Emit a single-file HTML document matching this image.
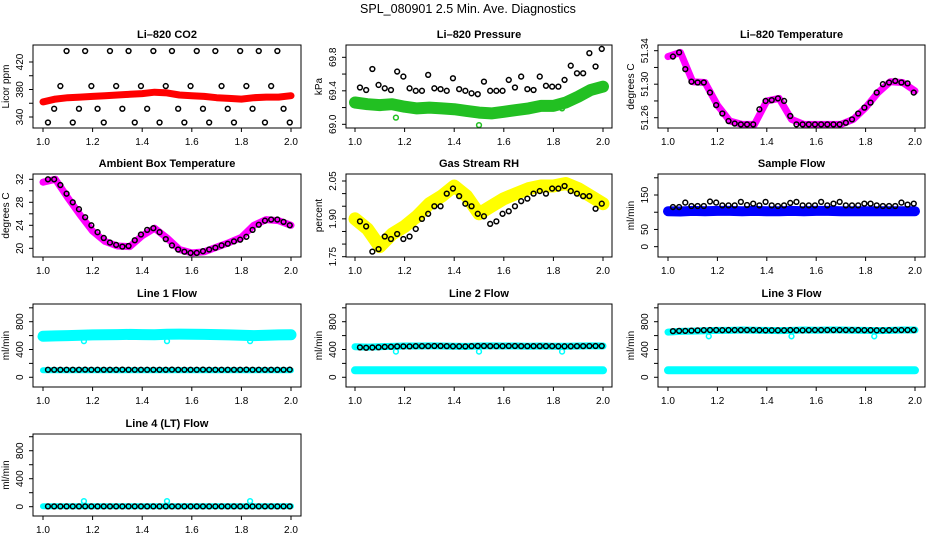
<!DOCTYPE html>
<html><head><meta charset="utf-8"><title>SPL_080901 Diagnostics</title>
<style>
html,body{margin:0;padding:0;background:#fff;}
svg{display:block;font-family:"Liberation Sans",Arial,sans-serif;}
</style></head>
<body>
<svg id="chart" width="936" height="540" viewBox="0 0 936 540" xmlns="http://www.w3.org/2000/svg">
<rect width="936" height="540" fill="#fff"/>
<text x="468" y="13" font-size="12.5" text-anchor="middle">SPL_080901  2.5 Min. Ave. Diagnostics</text>
</svg>
<script>
// ---- data ----
const tx = [1.0,1.05,1.1,1.15,1.2,1.25,1.3,1.35,1.4,1.45,1.5,1.55,1.6,1.65,1.7,1.75,1.8,1.85,1.9,1.95,2.0];
const bx = [1.02,1.045,1.07,1.095,1.12,1.145,1.17,1.195,1.22,1.245,1.27,1.295,1.32,1.345,1.37,1.395,1.42,1.445,1.47,1.495,1.52,1.545,1.57,1.595,1.62,1.645,1.67,1.695,1.72,1.745,1.77,1.795,1.82,1.845,1.87,1.895,1.92,1.945,1.97,1.995];
const xTicks = [1.0,1.2,1.4,1.6,1.8,2.0];
const xTickLabels = ["1.0","1.2","1.4","1.6","1.8","2.0"];
const outX = [1.165,1.5,1.835];

const co2Trace = [362,366,368,369,370,371,372,373,374,376,375,372,371,370,368,367,366,368,369,369,371];
const co2Pts = [332,352,385,436,332,352,436,385,352,332,436,385,352,436,332,385,352,436,332,385,436,352,332,385,436,352,332,436,385,352,332,436,385,352,436,332,385,436,352,332];
const presTrace = [69.26,69.24,69.23,69.24,69.21,69.19,69.2,69.19,69.18,69.16,69.14,69.13,69.15,69.17,69.19,69.22,69.22,69.26,69.33,69.41,69.45];
const presPts = [69.44,69.41,69.66,69.47,69.43,69.41,69.63,69.57,69.43,69.40,69.40,69.59,69.43,69.42,69.40,69.55,69.42,69.40,69.37,69.36,69.51,69.40,69.40,69.40,69.53,69.44,69.57,69.42,69.41,69.57,69.46,69.45,69.45,69.53,69.70,69.61,69.61,69.85,69.69,69.90];
const tempTrace = [51.333,51.338,51.303,51.302,51.275,51.256,51.252,51.252,51.28,51.283,51.258,51.252,51.252,51.252,51.252,51.258,51.272,51.29,51.303,51.302,51.292];
const tempPts = [51.333,51.338,51.318,51.303,51.302,51.302,51.29,51.275,51.265,51.256,51.253,51.252,51.252,51.252,51.27,51.28,51.281,51.283,51.28,51.262,51.252,51.252,51.252,51.252,51.252,51.252,51.252,51.252,51.254,51.258,51.265,51.272,51.278,51.29,51.3,51.302,51.304,51.302,51.301,51.29];
const ambTrace = [31.5,32,28.8,25.8,23,21.2,20.4,20.3,22.2,23.5,21.8,19.8,19.2,19.4,20.2,21,21.9,24,25,24.8,24];
const ambPts = [32,32,31,29.5,28,26.8,25.4,24,22.8,21.8,21,20.6,20.3,20.4,21.4,22.4,23.2,23.5,22.8,21.6,20.5,19.8,19.4,19.2,19.2,19.5,19.8,20.1,20.5,20.8,21.2,21.5,22,23.2,24.1,24.8,25,25,24.6,24];
const rhTrace = [1.90,1.86,1.79,1.84,1.87,1.91,1.96,1.99,2.03,1.99,1.92,1.95,1.98,2.0,2.02,2.03,2.03,2.04,2.02,1.99,1.96];
const rhPts = [1.89,1.87,1.77,1.78,1.83,1.82,1.84,1.82,1.83,1.86,1.90,1.92,1.95,1.95,2.00,2.02,1.99,1.96,1.95,1.92,1.91,1.88,1.89,1.92,1.93,1.95,1.97,1.98,2.00,2.01,2.00,2.02,2.02,2.03,2.01,2.00,1.99,1.99,1.94,1.96];
const sfTrace = [103,102,104,103,104,104,103,104,103,103,104,103,104,104,103,103,103,103,103,103,103];
const sfPts = [115,115,128,118,118,118,131,128,120,120,120,130,121,125,120,130,120,118,120,127,130,120,120,120,130,120,125,130,120,120,120,125,125,120,118,118,118,128,122,125];
const l1Upper = [590,595,600,605,610,612,615,618,615,612,620,622,620,618,615,610,605,600,605,610,612];
const l1Lower = [100,100,100,100,100,100,100,100,100,100,100,100,100,100,100,100,100,100,100,100,100];
const l1Pts = [108,108,108,108,108,108,110,108,108,108,108,108,110,108,108,108,108,108,108,108,110,108,108,108,108,110,108,108,108,108,108,108,110,108,108,108,108,108,108,110];
const l1Out = [520,520,520];
const l2Upper = [440,435,440,445,450,450,452,450,448,445,450,452,450,450,448,450,448,448,450,452,450];
const l2Lower = [100,100,100,100,100,100,100,100,100,100,100,100,100,100,100,100,100,100,100,100,100];
const l2Pts = [430,425,428,432,438,440,445,445,445,448,448,448,450,450,448,446,446,445,448,450,450,448,448,448,450,450,448,448,448,448,448,448,446,446,446,448,448,450,450,450];
const l2Out = [370,370,370];
const l3Upper = [650,660,665,670,675,675,680,678,675,672,675,680,678,680,680,678,675,672,675,680,680];
const l3Lower = [100,100,100,100,100,100,100,100,100,100,100,100,100,100,100,100,100,100,100,100,100];
const l3Pts = [665,668,668,672,675,678,680,680,678,680,680,680,680,680,678,676,676,676,676,680,678,676,678,680,680,680,680,680,680,680,680,678,678,676,676,678,680,680,680,680];
const l3Out = [590,590,590];
const l4Line = [5,5,5,5,5,5,5,5,5,5,5,5,5,5,5,5,5,5,5,5,5];
const l4Pts = [5,5,5,5,5,5,5,5,5,5,5,5,5,5,5,5,5,5,5,5,5,5,5,5,5,5,5,5,5,5,5,5,5,5,5,5,5,5,5,5];
const l4Out = [80,80,80];

const co2Ticks=[340,360,380,400,420], co2Labels=["340","","380","","420"];
const presTicks=[69.0,69.2,69.4,69.6,69.8], presLabels=["69.0","","69.4","","69.8"];
const tempTicks=[51.26,51.28,51.30,51.32,51.34], tempLabels=["51.26","","51.30","","51.34"];
const ambTicks=[20,22,24,26,28,30,32], ambLabels=["20","","24","","28","","32"];
const rhTicks=[1.75,1.80,1.85,1.90,1.95,2.00,2.05], rhLabels=["1.75","","","1.90","","","2.05"];
const sfTicks=[0,50,100,150,200], sfLabels=["0","50","","150",""];
const flowTicks=[0,200,400,600,800,1000], flowLabels=["0","","400","","800",""];

// ---- layout ----
const cols=[{l:33,r:301,x0:43,x1:291},{l:346,r:612,x0:355,x1:603},{l:658,r:925,x0:668,x1:915}];
const rows=[{t:45,b:128},{t:174,b:257},{t:304,b:387},{t:434,b:516}];
const NS="http://www.w3.org/2000/svg";
const svg=document.getElementById('chart');
function mk(tag,attrs,parent){const e=document.createElementNS(NS,tag);for(const k in attrs)e.setAttribute(k,attrs[k]);(parent||svg).appendChild(e);return e;}

function panel(name,title,ytitle,ci,ri,ymin,ymax,ticks,labels,draw){
  const c=cols[ci],r=rows[ri];
  const g=mk('g',{});
  
  
  const xs=v=>c.x0+(v-1)*(c.x1-c.x0);
  const ys=v=>r.b-(v-ymin)/(ymax-ymin)*(r.b-r.t);
  const cp='clip-'+name;
  const cl=mk('clipPath',{id:cp},g);mk('rect',{x:c.l,y:r.t,width:c.r-c.l,height:r.b-r.t},cl);
  const plot=mk('g',{'clip-path':'url(#'+cp+')'},g);
  
  
  draw(plot,xs,ys);
  const box=mk('rect',{x:c.l,y:r.t,width:c.r-c.l,height:r.b-r.t,fill:'none',stroke:'#000','stroke-width':1},g);
  
  
  const t=mk('text',{x:(c.l+c.r)/2,y:r.t-7,'font-size':11,'font-weight':'bold','text-anchor':'middle'},g);
  t.textContent=title;
  
  
  const xa=mk('g',{},g);
  
  
  xTicks.forEach((v,i)=>{
    const x=xs(v);
    mk('line',{x1:x,x2:x,y1:r.b,y2:r.b+4,stroke:'#000'},xa);
    const tl=mk('text',{x:x,y:r.b+17,'font-size':10,'text-anchor':'middle'},xa);
    tl.textContent=xTickLabels[i];
    
    
  });
  const ya=mk('g',{},g);
  
  
  ticks.forEach((v,i)=>{
    const y=ys(v);
    mk('line',{x1:c.l-4,x2:c.l,y1:y,y2:y,stroke:'#000'},ya);
    if(labels[i]){
      const tl=mk('text',{x:0,y:0,'font-size':10,'text-anchor':'middle',transform:`translate(${c.l-10},${y}) rotate(-90)`},ya);
      tl.textContent=labels[i];
      
      
    }
  });
  const yt=mk('text',{x:0,y:0,'font-size':10,'text-anchor':'middle',transform:`translate(${c.l-24},${(r.t+r.b)/2}) rotate(-90)`},ya);
  yt.textContent=ytitle;
  
  
}
function trace(p,xs,ys,vals,color,w,nm){
  const pts=tx.map((x,i)=>xs(x).toFixed(1)+','+ys(vals[i]).toFixed(1)).join(' ');
  const pl=mk('polyline',{points:pts,fill:'none',stroke:color,'stroke-width':w,'stroke-linejoin':'round','stroke-linecap':'round'},p);
  
  
}
function dots(p,xs,ys,xv,vals,color,nm){
  const g=mk('g',{},p);
  
  
  xv.forEach((x,i)=>{
    const c=mk('circle',{cx:xs(x),cy:ys(vals[i]),r:2.4,fill:'none',stroke:color,'stroke-width':1.5},g);
    
    
  });
}
const CY='#00ffff';
panel('co2','Li\u2013820 CO2','Licor ppm',0,0,324,444.7,co2Ticks,co2Labels,(p,xs,ys)=>{trace(p,xs,ys,co2Trace,'#ff0000',7,'co2-trace');dots(p,xs,ys,bx,co2Pts,'#000','co2-points');});
panel('pressure','Li\u2013820 Pressure','kPa',1,0,68.956,69.947,presTicks,presLabels,(p,xs,ys)=>{trace(p,xs,ys,presTrace,'#22c022',12,'pressure-trace');dots(p,xs,ys,[1.165,1.5,1.835],[69.08,68.99,69.19],'#22c022','pressure-outliers');dots(p,xs,ys,bx,presPts,'#000','pressure-points');});
panel('temp','Li\u2013820 Temperature','degrees C',2,0,51.2477,51.3468,tempTicks,tempLabels,(p,xs,ys)=>{trace(p,xs,ys,tempTrace,'#ff00ff',7,'temp-trace');dots(p,xs,ys,bx,tempPts,'#000','temp-points');});
panel('ambient','Ambient Box Temperature','degrees C',0,1,18.49,32.92,ambTicks,ambLabels,(p,xs,ys)=>{trace(p,xs,ys,ambTrace,'#ff00ff',7,'ambient-trace');dots(p,xs,ys,bx,ambPts,'#000','ambient-points');});
panel('rh','Gas Stream RH','percent',1,1,1.7488,2.0777,rhTicks,rhLabels,(p,xs,ys)=>{trace(p,xs,ys,rhTrace,'#ffff00',13,'rh-trace');dots(p,xs,ys,bx,rhPts,'#000','rh-points');});
panel('sample','Sample Flow','ml/min',2,1,-30,211,sfTicks,sfLabels,(p,xs,ys)=>{trace(p,xs,ys,sfTrace,'#0000ff',10,'sample-trace');dots(p,xs,ys,bx,sfPts,'#000','sample-points');});
panel('line1','Line 1 Flow','ml/min',0,2,-140,1055,flowTicks,flowLabels,(p,xs,ys)=>{trace(p,xs,ys,l1Upper,CY,11,'line1-upper-trace');trace(p,xs,ys,l1Lower,CY,6,'line1-lower-trace');dots(p,xs,ys,outX,l1Out,CY,'line1-outliers');dots(p,xs,ys,bx,l1Pts,'#000','line1-points');});
panel('line2','Line 2 Flow','ml/min',1,2,-140,1055,flowTicks,flowLabels,(p,xs,ys)=>{trace(p,xs,ys,l2Upper,CY,7,'line2-upper-trace');trace(p,xs,ys,l2Lower,CY,8,'line2-lower-trace');dots(p,xs,ys,outX,l2Out,CY,'line2-outliers');dots(p,xs,ys,bx,l2Pts,'#000','line2-points');});
panel('line3','Line 3 Flow','ml/min',2,2,-140,1055,flowTicks,flowLabels,(p,xs,ys)=>{trace(p,xs,ys,l3Upper,CY,7,'line3-upper-trace');trace(p,xs,ys,l3Lower,CY,8,'line3-lower-trace');dots(p,xs,ys,outX,l3Out,CY,'line3-outliers');dots(p,xs,ys,bx,l3Pts,'#000','line3-points');});
panel('line4','Line 4 (LT) Flow','ml/min',0,3,-133,1039,flowTicks,flowLabels,(p,xs,ys)=>{trace(p,xs,ys,l4Line,CY,6,'line4-trace');dots(p,xs,ys,outX,l4Out,CY,'line4-outliers');dots(p,xs,ys,bx,l4Pts,'#000','line4-points');});
</script>
</body></html>
